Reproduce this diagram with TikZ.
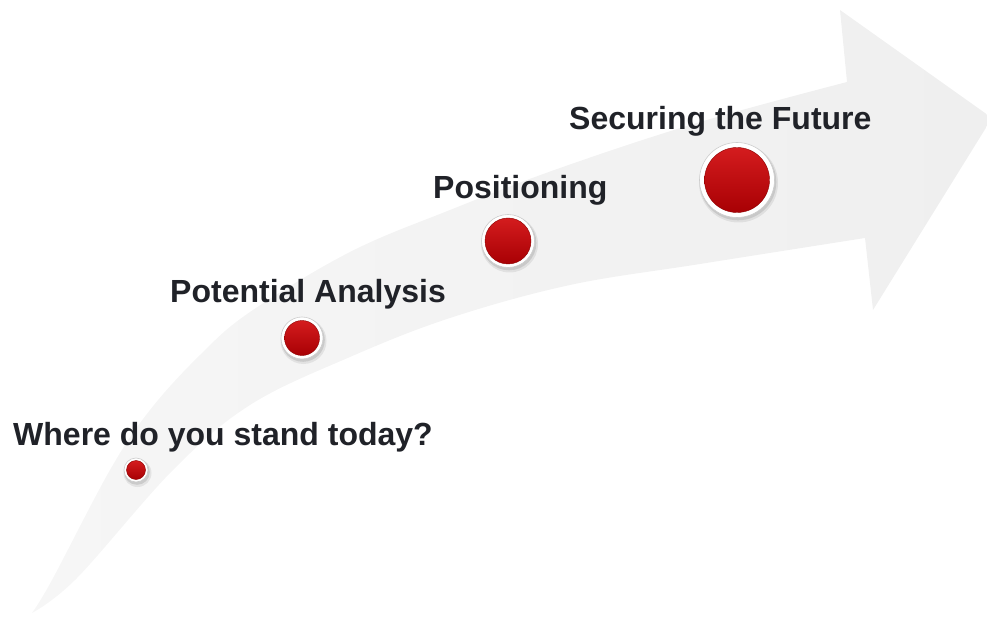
\documentclass[tikz,border=0pt]{standalone}
\usepackage{fontspec}
\setmainfont{Liberation Sans}
\definecolor{bandgray}{RGB}{239,239,239}
\definecolor{bandlight}{RGB}{246,246,246}
\definecolor{txt}{RGB}{32,34,40}
\definecolor{redtop}{RGB}{212,28,30}
\definecolor{redbot}{RGB}{168,0,4}
\definecolor{rededge}{RGB}{140,0,0}
\newcommand\redball[5]{%
  \fill[black,opacity=0.07] (#2+1.5,#3+3) circle (#4+2);
  \fill[black,opacity=0.10] (#2+1,#3+2) circle (#4+0.8);
  \node[ballrim, minimum size=2*#4] (#1rim) at (#2,#3) {};
  \node[ballcore, minimum size=2*#5] (#1) at (#2,#3) {};
}
\begin{document}
\begin{tikzpicture}[x=1pt,y=-1pt,
  ballrim/.style={circle, inner sep=0pt, fill=white, draw=black!20, line width=0.6pt},
  ballcore/.style={circle, inner sep=0pt, top color=redtop, bottom color=redbot, draw=rededge, line width=0.4pt},
  lbl/.style={anchor=base west, inner sep=0pt, text=txt, font=\bfseries\fontsize{32}{38}\selectfont}]
\useasboundingbox (0,0) rectangle (987,617);
% band arrow
\shade[left color=bandlight, right color=bandgray]
  plot[smooth, tension=0.6] coordinates {(32,613) (52,580) (110,470) (150,410) (200,355) (250,312) (350,252) (450,210) (560,168) (700,122) (847,82)}
  -- (840,10) -- (992,118) -- (873,310) -- (865,238)
  -- plot[smooth, tension=0.6] coordinates {(865,238) (700,264) (570,285) (450,318) (350,357) (250,405) (173,470) (77,578) (32,613)}
  -- cycle;
% balls
\redball{b1}{136}{470}{12}{9.5}
\redball{b2}{302}{338}{21}{17.5}
\redball{b3}{508}{241}{26.5}{23}
\redball{b4}{737}{180}{37.5}{32.5}
% labels
\node[lbl] (l1) at (13,445) {Where do you stand today?};
\node[lbl] (l2) at (170,302) {Potential Analysis};
\node[lbl] (l3) at (433,199) {Positioning};
\node[lbl] (l4) at (569,130) {Securing the Future};
\end{tikzpicture}
\end{document}
